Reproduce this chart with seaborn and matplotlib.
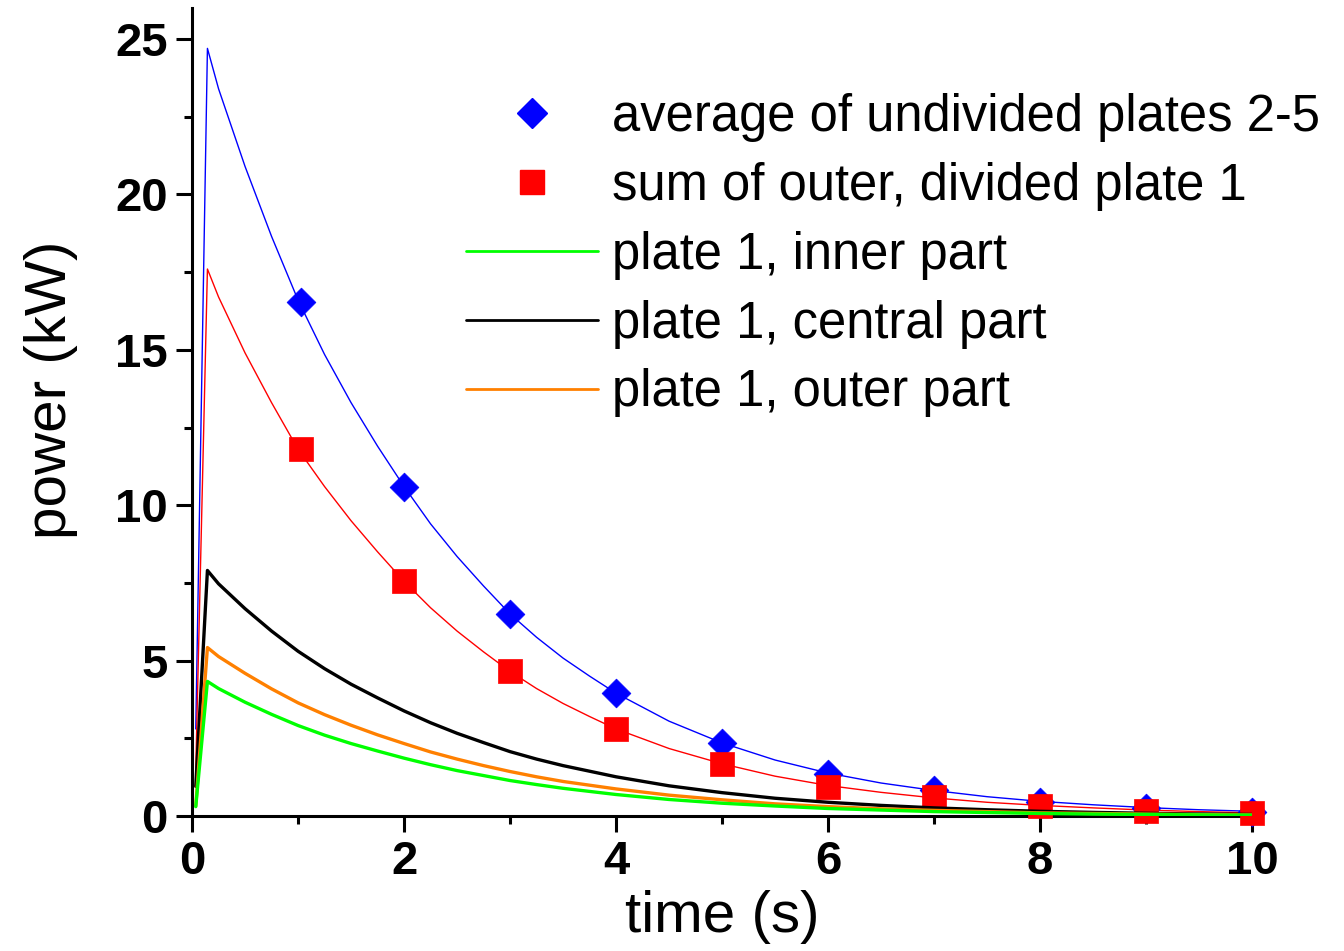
import matplotlib
matplotlib.use("Agg")
import matplotlib.pyplot as plt
from matplotlib.lines import Line2D
from matplotlib.ticker import MultipleLocator
import seaborn as sns
import pandas as pd

# ---- data ----
time = [0.035, 0.145, 0.25, 0.5, 0.75, 1.0, 1.25, 1.5, 1.75, 2.0, 2.25, 2.5, 2.75,
        3.0, 3.25, 3.5, 3.75, 4.0, 4.5, 5.0, 5.5, 6.0, 6.5, 7.0, 7.5, 8.0, 8.5,
        9.0, 9.5, 10.0]
blue_line = [2.8, 24.7, 23.4, 20.9, 18.65, 16.6, 14.85, 13.3, 11.9, 10.6, 9.4, 8.35, 7.4,
             6.5, 5.75, 5.08, 4.5, 3.95, 3.05, 2.35, 1.8, 1.38, 1.06, 0.82, 0.62, 0.47, 0.36,
             0.27, 0.2, 0.15]
red_line = [1.5, 17.6, 16.7, 14.9, 13.3, 11.8, 10.6, 9.5, 8.5, 7.55, 6.7, 5.95, 5.28,
            4.65, 4.1, 3.62, 3.2, 2.8, 2.17, 1.68, 1.28, 0.98, 0.76, 0.58, 0.44, 0.34, 0.26,
            0.19, 0.14, 0.1]
central = [0.95, 7.9, 7.47, 6.67, 5.95, 5.3, 4.74, 4.24, 3.8, 3.38, 3.0, 2.66, 2.36,
           2.07, 1.83, 1.62, 1.44, 1.26, 0.97, 0.75, 0.57, 0.44, 0.34, 0.26, 0.2, 0.15, 0.115,
           0.086, 0.064, 0.048]
outer = [0.32, 5.42, 5.13, 4.59, 4.09, 3.64, 3.26, 2.92, 2.61, 2.33, 2.06, 1.83, 1.62,
         1.43, 1.26, 1.11, 0.99, 0.87, 0.67, 0.52, 0.39, 0.3, 0.23, 0.18, 0.14, 0.1, 0.08,
         0.06, 0.044, 0.033]
inner = [0.3, 4.33, 4.1, 3.66, 3.27, 2.91, 2.6, 2.33, 2.09, 1.86, 1.65, 1.46, 1.3,
         1.14, 1.01, 0.89, 0.79, 0.69, 0.53, 0.41, 0.32, 0.24, 0.19, 0.14, 0.11, 0.08, 0.06,
         0.047, 0.035, 0.026]

marker_time = [1.03, 2, 3, 4, 5, 6, 7, 8, 9, 10]
avg_plates = [16.53, 10.57, 6.51, 3.96, 2.35, 1.35, 0.84, 0.45, 0.26, 0.13]
sum_outer = [11.82, 7.57, 4.67, 2.80, 1.68, 0.93, 0.61, 0.32, 0.16, 0.10]

labels = ["average of undivided plates 2-5", "sum of outer, divided plate 1",
          "plate 1, inner part", "plate 1, central part", "plate 1, outer part"]

# ---- style ----
sns.set_style("ticks")
plt.rcParams['font.family'] = ['Liberation Sans', 'DejaVu Sans']
plt.rcParams.update({"text.color": "black", "axes.labelcolor": "black",
                     "xtick.color": "black", "ytick.color": "black",
                     "axes.edgecolor": "black"})

BLUE, RED, GREEN, BLACK, ORANGE = "#0000FF", "#FF0000", "#00FF00", "#000000", "#FF8000"

fig = plt.figure(figsize=(13.44, 9.51), dpi=100)
ax = fig.add_axes([0.1429, 0.142, 0.7887, 0.8496])

lines_df = pd.DataFrame({"time": time, "blue": blue_line, "red": red_line,
                         "central": central, "outer": outer, "inner": inner})
pts_df = pd.DataFrame({"time": marker_time, "avg": avg_plates, "sum": sum_outer})

sns.lineplot(data=lines_df, x="time", y="blue", ax=ax, color=BLUE, linewidth=1.0, zorder=2)
sns.lineplot(data=lines_df, x="time", y="red", ax=ax, color=RED, linewidth=1.0, zorder=2)
sns.scatterplot(data=pts_df, x="time", y="avg", ax=ax, marker="D", s=215, color=BLUE,
                edgecolor=BLUE, linewidth=0.5, zorder=3, clip_on=False)
sns.scatterplot(data=pts_df, x="time", y="sum", ax=ax, marker="s", s=290, color=RED,
                edgecolor=RED, linewidth=0.5, zorder=3, clip_on=False)
sns.lineplot(data=lines_df, x="time", y="central", ax=ax, color=BLACK, linewidth=2.4, zorder=4)
sns.lineplot(data=lines_df, x="time", y="outer", ax=ax, color=ORANGE, linewidth=2.4, zorder=4)
sns.lineplot(data=lines_df, x="time", y="inner", ax=ax, color=GREEN, linewidth=2.4, zorder=4)

ax.set_xlim(0, 10)
ax.set_ylim(0, 26)
ax.xaxis.set_major_locator(MultipleLocator(2))
ax.xaxis.set_minor_locator(MultipleLocator(1))
ax.yaxis.set_major_locator(MultipleLocator(5))
ax.yaxis.set_minor_locator(MultipleLocator(2.5))

for side in ["top", "right"]:
    ax.spines[side].set_visible(False)
for side in ["left", "bottom"]:
    ax.spines[side].set_linewidth(2.2)
    ax.spines[side].set_color("black")

ax.tick_params(which="major", direction="out", length=11.5, width=2.2, labelsize=34, pad=6,
               colors="black")
ax.tick_params(which="minor", direction="out", length=6, width=2.2, colors="black")
for lab in ax.get_xticklabels() + ax.get_yticklabels():
    lab.set_fontweight("bold")

ax.set_xlabel("time (s)", fontsize=42, labelpad=4)
ax.set_ylabel("power (kW)", fontsize=42)
ax.yaxis.set_label_coords(-0.1075, 0.527)

handles = [
    Line2D([], [], linestyle="none", marker="D", markersize=14.8, color=BLUE),
    Line2D([], [], linestyle="none", marker="s", markersize=17.3, color=RED),
    Line2D([], [], color=GREEN, linewidth=2.0),
    Line2D([], [], color=BLACK, linewidth=2.0),
    Line2D([], [], color=ORANGE, linewidth=2.0),
]
fig.legend(handles, labels, loc="upper left", bbox_to_anchor=(0.347, 0.902),
           frameon=False, fontsize=36.5, handlelength=2.6, handletextpad=0.28,
           labelspacing=0.39, borderpad=0, borderaxespad=0)

fig.savefig("out.png", dpi=100)
